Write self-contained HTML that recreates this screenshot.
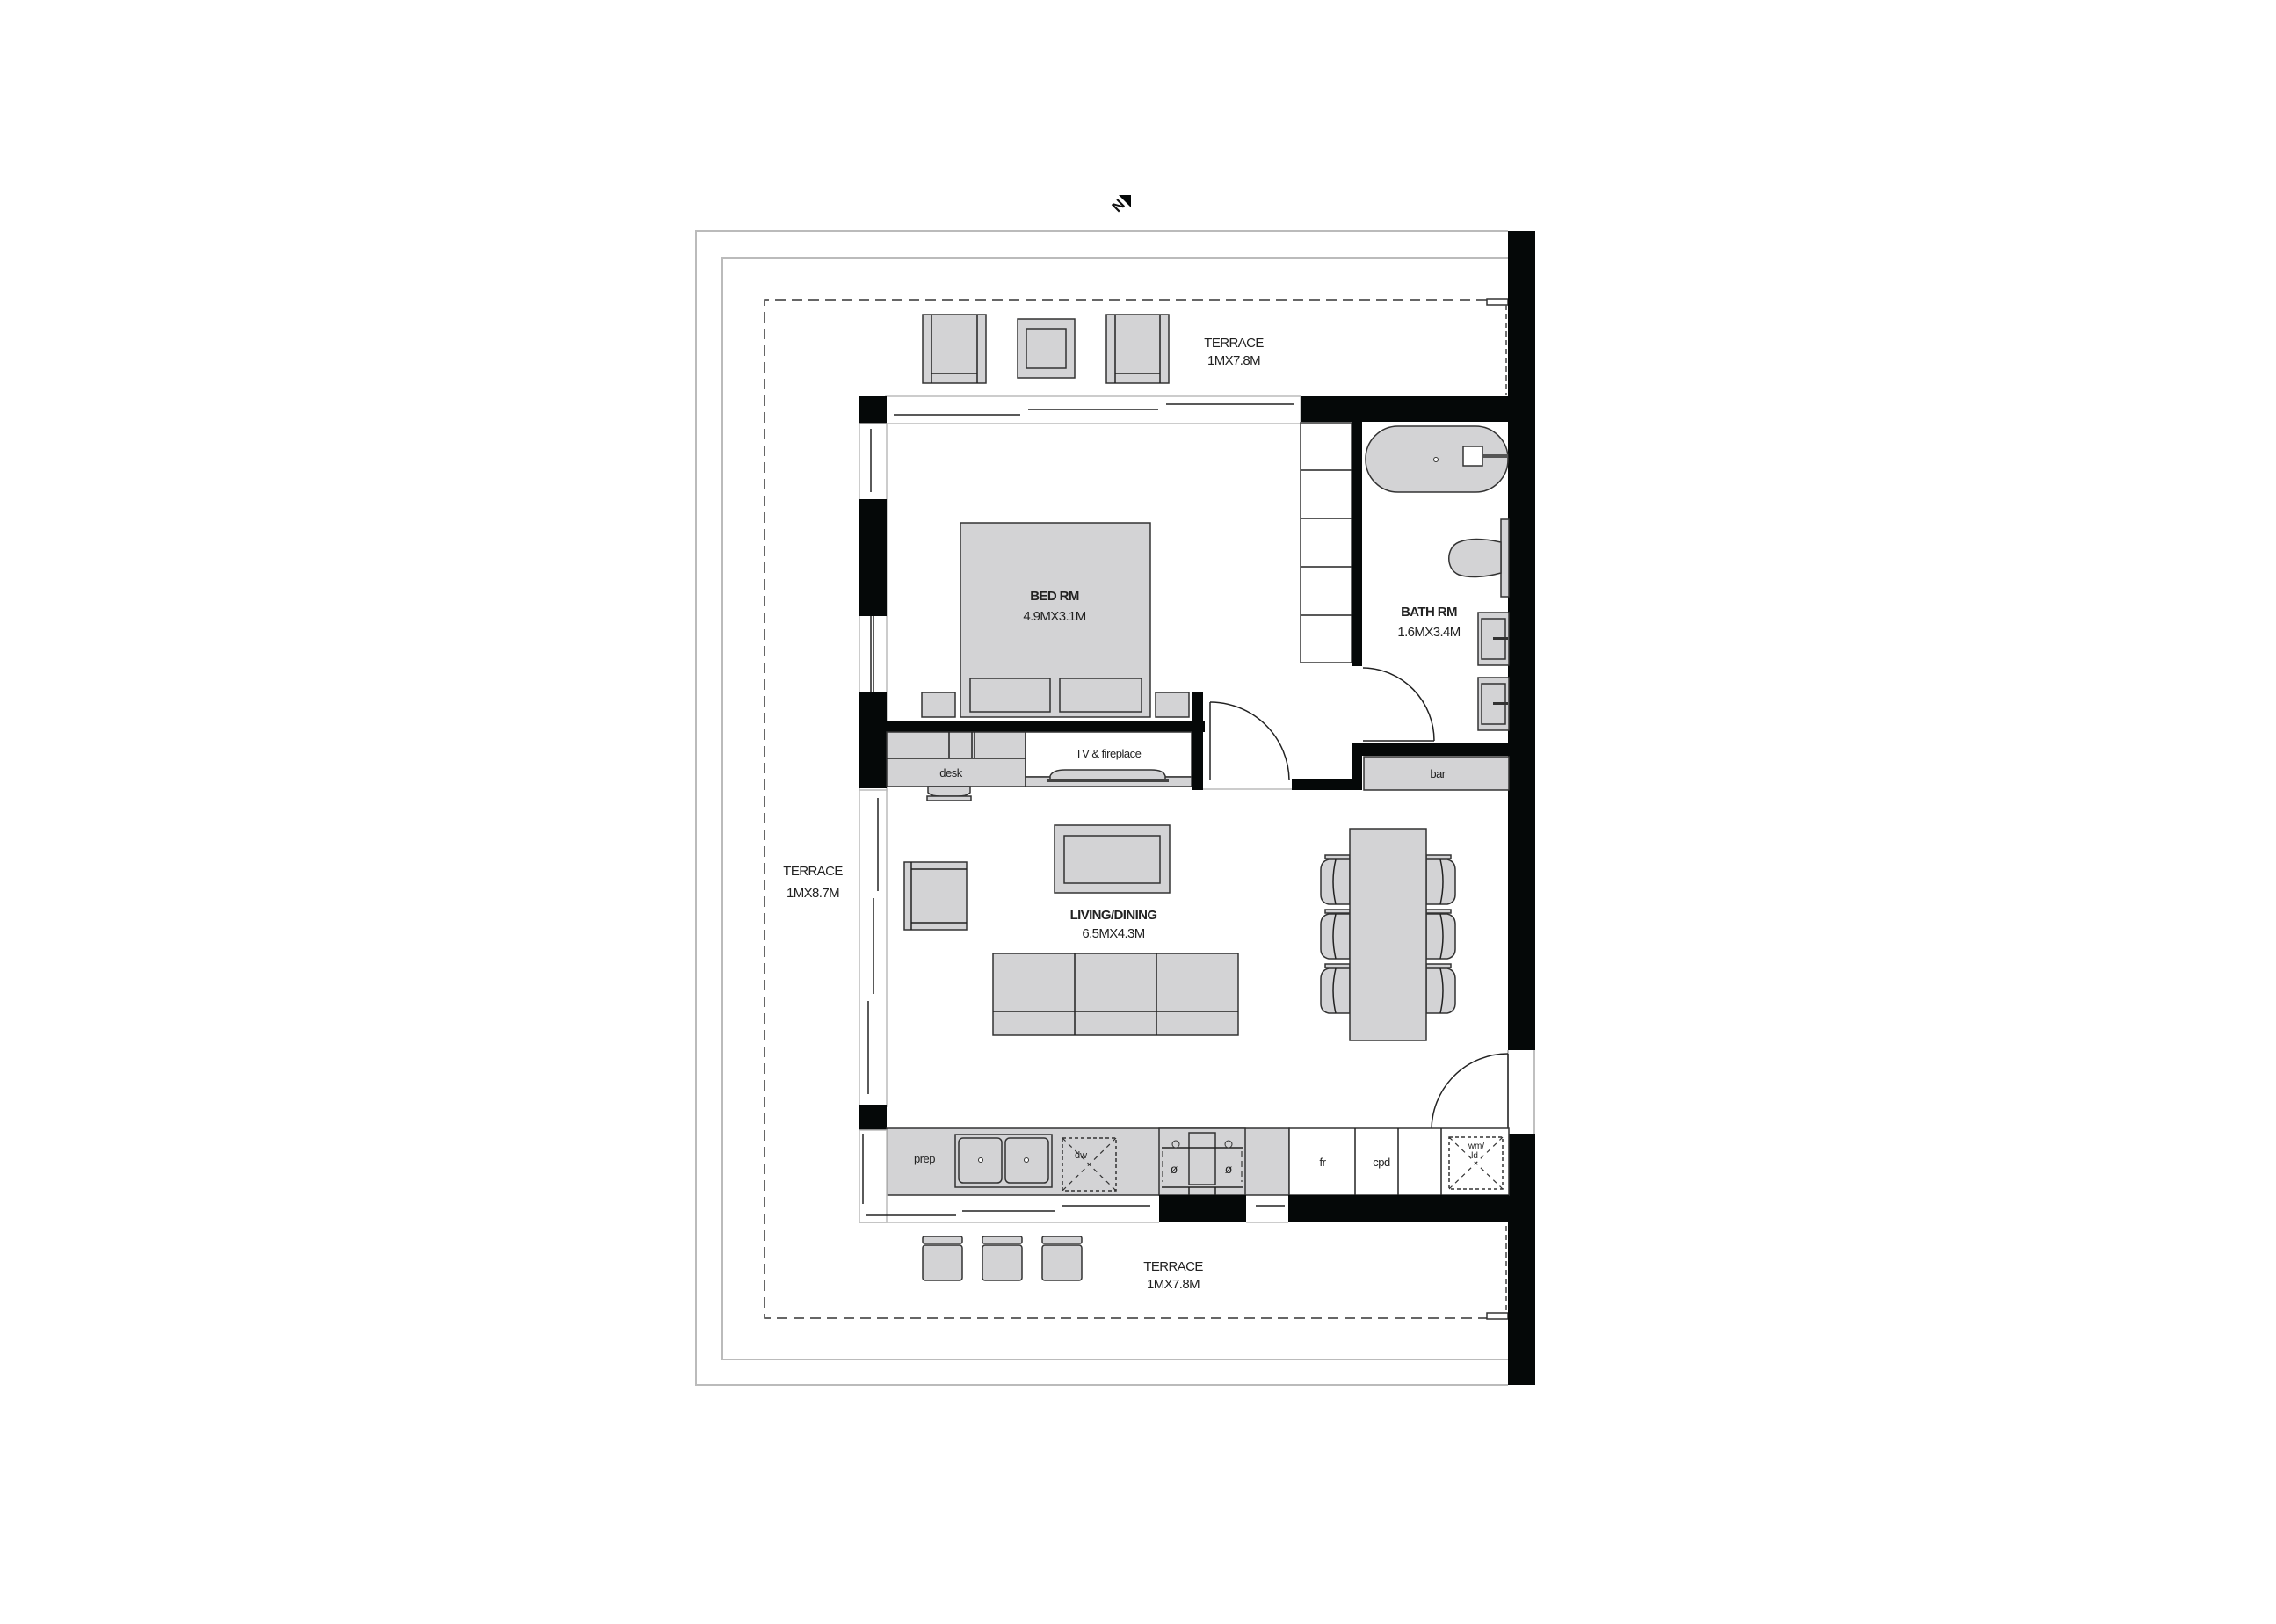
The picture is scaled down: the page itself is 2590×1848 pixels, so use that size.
<!DOCTYPE html>
<html><head><meta charset="utf-8"><style>
html,body{margin:0;padding:0;background:#fff}
svg{display:block}
text{font-family:"Liberation Sans",sans-serif;fill:#222}
.g{fill:#d3d3d5;stroke:#333;stroke-width:1.5}
.w{fill:#fff;stroke:#333;stroke-width:1.5}
.k{fill:#050808}
.l{fill:none;stroke:#222;stroke-width:1.5}
.lg{fill:none;stroke:#bbb;stroke-width:2}
.t{font-size:15px;letter-spacing:-0.6px}
.b{font-size:15px;font-weight:bold;letter-spacing:-0.6px}
.s{font-size:13px;letter-spacing:-0.5px}
</style></head><body>
<svg width="2590" height="1848" viewBox="0 0 2590 1848" xmlns="http://www.w3.org/2000/svg">
<polygon class="k" points="1273,222 1287,222 1287,236"/>
<text x="1268" y="244" font-size="17" font-weight="bold" transform="rotate(-45 1268 238)" style="fill:#111">N</text>

<polyline class="lg" points="1716,263 792,263 792,1576 1716,1576"/>
<polyline class="lg" points="1716,294 822,294 822,1547 1716,1547"/>
<polyline fill="none" stroke="#333" stroke-width="1.5" stroke-dasharray="12 7" points="1692,341 870,341 870,1500 1692,1500"/>
<rect class="w" x="1692" y="340" width="24" height="7"/>
<rect class="w" x="1692" y="1494" width="24" height="7"/>
<line x1="1714" y1="347" x2="1714" y2="450" stroke="#444" stroke-width="1.5" stroke-dasharray="6 4"/>
<line x1="1714" y1="1395" x2="1714" y2="1494" stroke="#444" stroke-width="1.5" stroke-dasharray="6 4"/>

<rect class="k" x="1716" y="263" width="31" height="932"/>
<rect class="k" x="1716" y="1290" width="31" height="286"/>
<line x1="1716" y1="1195" x2="1716" y2="1290" stroke="#aaa" stroke-width="1.5"/>
<line x1="1746" y1="1195" x2="1746" y2="1290" stroke="#aaa" stroke-width="1.5"/>

<g>
<rect class="g" x="1050" y="358" width="72" height="78"/>
<line class="l" x1="1060" y1="358" x2="1060" y2="436"/><line class="l" x1="1112" y1="358" x2="1112" y2="436"/>
<line class="l" x1="1060" y1="425" x2="1112" y2="425"/>
<rect class="g" x="1158" y="363" width="65" height="67"/>
<rect class="g" x="1168" y="374" width="45" height="45"/>
<rect class="g" x="1259" y="358" width="71" height="78"/>
<line class="l" x1="1269" y1="358" x2="1269" y2="436"/><line class="l" x1="1320" y1="358" x2="1320" y2="436"/>
<line class="l" x1="1269" y1="425" x2="1320" y2="425"/>
</g>
<text class="t" x="1404" y="395" text-anchor="middle">TERRACE</text>
<text class="t" x="1404" y="415" text-anchor="middle">1MX7.8M</text>

<rect x="1008" y="451" width="472" height="31" fill="#fff" stroke="#bbb" stroke-width="1.5"/>
<rect class="k" x="978" y="451" width="31" height="31"/>
<line class="l" x1="1017" y1="472" x2="1161" y2="472" stroke-width="2"/>
<line class="l" x1="1170" y1="466" x2="1318" y2="466" stroke-width="2"/>
<line class="l" x1="1327" y1="460" x2="1472" y2="460" stroke-width="2"/>
<rect class="k" x="1480" y="451" width="237" height="29"/>
<rect class="k" x="1538" y="480" width="12" height="278"/>
<rect class="k" x="1538" y="846" width="179" height="14"/>
<rect class="k" x="1538" y="846" width="12" height="53"/>
<rect class="k" x="1470" y="887" width="80" height="12"/>

<rect class="w" x="1480" y="481" width="58" height="273"/>
<line class="l" x1="1480" y1="535" x2="1538" y2="535"/>
<line class="l" x1="1480" y1="590" x2="1538" y2="590"/>
<line class="l" x1="1480" y1="645" x2="1538" y2="645"/>
<line class="l" x1="1480" y1="700" x2="1538" y2="700"/>

<rect class="g" x="1554" y="485" width="162" height="75" rx="37"/>
<circle cx="1634" cy="523" r="2.5" fill="#fff" stroke="#333"/>
<rect class="w" x="1665" y="508" width="22" height="22"/>
<rect x="1687" y="517" width="29" height="4" fill="#555"/>
<rect class="g" x="1708" y="591" width="9" height="88"/>
<path class="g" d="M1708,617 C1690,613 1672,612 1660,617 C1645,623 1645,648 1660,654 C1672,658 1690,657 1708,652 Z"/>
<text class="b" x="1626" y="701" text-anchor="middle">BATH RM</text>
<text class="t" x="1626" y="724" text-anchor="middle">1.6MX3.4M</text>
<rect class="g" x="1682" y="697" width="35" height="60"/>
<rect class="g" x="1686" y="704" width="27" height="46"/>
<rect x="1699" y="725" width="17" height="3" fill="#333"/>
<rect class="g" x="1682" y="771" width="35" height="60"/>
<rect class="g" x="1686" y="778" width="27" height="46"/>
<rect x="1699" y="799" width="17" height="3" fill="#333"/>
<line class="l" x1="1551" y1="843" x2="1632" y2="843"/>
<path class="l" d="M1551,760 A82,83 0 0 1 1632,843"/>
<rect class="g" x="1552" y="861" width="165" height="38"/>
<text class="s" x="1636" y="885" text-anchor="middle">bar</text>

<rect x="978" y="482" width="31" height="418" fill="#fff" stroke="#bbb" stroke-width="1.5"/>
<line class="l" x1="991" y1="488" x2="991" y2="560" stroke-width="2"/>
<rect class="k" x="978" y="568" width="31" height="133"/>
<line class="l" x1="991" y1="701" x2="991" y2="787"/>
<line class="l" x1="994" y1="701" x2="994" y2="787"/>
<rect class="k" x="978" y="787" width="31" height="110"/>

<rect class="k" x="1009" y="821" width="362" height="12"/>
<rect class="k" x="1356" y="787" width="13" height="112"/>

<rect class="g" x="1093" y="595" width="216" height="221"/>
<rect class="g" x="1104" y="772" width="91" height="38"/>
<rect class="g" x="1206" y="772" width="93" height="38"/>
<rect class="g" x="1049" y="788" width="38" height="28"/>
<rect class="g" x="1315" y="788" width="38" height="28"/>
<text class="b" x="1200" y="683" text-anchor="middle">BED RM</text>
<text class="t" x="1200" y="706" text-anchor="middle">4.9MX3.1M</text>

<rect class="g" x="1009" y="833" width="158" height="62"/>
<line class="l" x1="1009" y1="863" x2="1167" y2="863"/>
<line class="l" x1="1080" y1="833" x2="1080" y2="863"/>
<line class="l" x1="1106" y1="833" x2="1106" y2="863"/>
<line class="l" x1="1109" y1="833" x2="1109" y2="863"/>
<text class="s" x="1082" y="884" text-anchor="middle">desk</text>
<path class="g" d="M1056,895 L1056,902 Q1060,906 1070,906 L1090,906 Q1100,906 1104,902 L1104,895 Z"/>
<rect class="g" x="1055" y="906" width="50" height="5"/>
<rect class="w" x="1167" y="833" width="189" height="51"/>
<rect class="g" x="1167" y="884" width="189" height="11"/>
<text class="s" x="1261" y="862" text-anchor="middle">TV &amp; fireplace</text>
<path class="g" d="M1195,888 L1195,883 Q1198,876 1212,876 L1310,876 Q1324,876 1326,883 L1326,888 Z"/>
<rect x="1192" y="887" width="138" height="3" fill="#444"/>

<line class="l" x1="1377" y1="888" x2="1377" y2="799"/>
<path class="l" d="M1377,799 A90,90 0 0 1 1467,888"/>
<line x1="1369" y1="898" x2="1470" y2="898" stroke="#bbb" stroke-width="1.5"/>

<rect x="978" y="899" width="31" height="360" fill="#fff" stroke="#bbb" stroke-width="1.5"/>
<line class="l" x1="999" y1="908" x2="999" y2="1014" stroke-width="2"/>
<line class="l" x1="994" y1="1022" x2="994" y2="1131" stroke-width="2"/>
<line class="l" x1="988" y1="1139" x2="988" y2="1245" stroke-width="2"/>
<rect class="k" x="978" y="1257" width="31" height="29"/>

<rect class="g" x="1200" y="939" width="131" height="77"/>
<rect class="g" x="1211" y="951" width="109" height="54"/>
<rect class="g" x="1029" y="981" width="71" height="77"/>
<line class="l" x1="1037" y1="981" x2="1037" y2="1058"/>
<line class="l" x1="1037" y1="989" x2="1100" y2="989"/>
<line class="l" x1="1037" y1="1050" x2="1100" y2="1050"/>
<text class="b" x="1267" y="1046" text-anchor="middle">LIVING/DINING</text>
<text class="t" x="1267" y="1067" text-anchor="middle">6.5MX4.3M</text>
<rect class="g" x="1130" y="1085" width="279" height="93"/>
<line class="l" x1="1223" y1="1085" x2="1223" y2="1178"/>
<line class="l" x1="1316" y1="1085" x2="1316" y2="1178"/>
<line class="l" x1="1130" y1="1151" x2="1409" y2="1151"/>

<g>
<g id="chL">
<rect class="g" x="1508" y="973" width="28" height="4"/>
<path class="g" d="M1536,978 L1512,978 Q1503,980 1503,990 L1503,1018 Q1503,1027 1512,1029 L1536,1029 Z"/>
<path class="l" d="M1520,978 Q1514,1003 1520,1029"/>
</g>
<use href="#chL" y="62"/>
<use href="#chL" y="124"/>
<use href="#chL" transform="matrix(-1 0 0 1 3159 0)"/>
<use href="#chL" transform="matrix(-1 0 0 1 3159 62)"/>
<use href="#chL" transform="matrix(-1 0 0 1 3159 124)"/>
</g>
<rect class="g" x="1536" y="943" width="87" height="241"/>

<line class="l" x1="1716" y1="1286" x2="1716" y2="1199"/>
<path class="l" d="M1716,1199 A87,87 0 0 0 1629,1286"/>
<line x1="1629" y1="1286" x2="1716" y2="1286" stroke="#888" stroke-width="1.5"/>

<rect class="g" x="1009" y="1284" width="458" height="76"/>
<rect class="g" x="1087" y="1291" width="110" height="60"/>
<rect class="g" x="1091" y="1295" width="49" height="51" rx="5"/>
<rect class="g" x="1144" y="1295" width="49" height="51" rx="5"/>
<circle cx="1116" cy="1320" r="2.5" fill="#fff" stroke="#333"/>
<circle cx="1168" cy="1320" r="2.5" fill="#fff" stroke="#333"/>
<text class="s" x="1052" y="1323" text-anchor="middle">prep</text>
<rect x="1209" y="1295" width="61" height="60" fill="none" stroke="#333" stroke-width="1.5" stroke-dasharray="4 3"/>
<line x1="1209" y1="1295" x2="1270" y2="1355" stroke="#333" stroke-width="1.2" stroke-dasharray="5 5"/>
<line x1="1270" y1="1295" x2="1209" y2="1355" stroke="#333" stroke-width="1.2" stroke-dasharray="5 5"/>
<text x="1230" y="1318" font-size="11" text-anchor="middle">dw</text>
<rect class="g" x="1319" y="1284" width="98" height="76"/>
<rect class="g" x="1353" y="1289" width="30" height="59"/>
<line class="l" x1="1322" y1="1306" x2="1414" y2="1306"/>
<circle cx="1338" cy="1302" r="4" fill="#d3d3d5" stroke="#333"/>
<circle cx="1398" cy="1302" r="4" fill="#d3d3d5" stroke="#333"/>
<text x="1336" y="1335" font-size="14" text-anchor="middle">ø</text>
<text x="1398" y="1335" font-size="14" text-anchor="middle">ø</text>
<path d="M1323,1310 L1323,1345 M1413,1310 L1413,1345" stroke="#444" stroke-width="1.3" stroke-dasharray="7 4"/>
<line class="l" x1="1322" y1="1351" x2="1414" y2="1351"/>
<line class="l" x1="1353" y1="1351" x2="1353" y2="1360"/>
<line class="l" x1="1383" y1="1351" x2="1383" y2="1360"/>
<rect class="w" x="1467" y="1284" width="250" height="76"/>
<line class="l" x1="1542" y1="1284" x2="1542" y2="1360"/>
<line class="l" x1="1591" y1="1284" x2="1591" y2="1360"/>
<line class="l" x1="1640" y1="1284" x2="1640" y2="1360"/>
<text class="s" x="1505" y="1327" text-anchor="middle">fr</text>
<text class="s" x="1572" y="1327" text-anchor="middle">cpd</text>
<rect x="1649" y="1294" width="61" height="59" fill="none" stroke="#333" stroke-width="1.5" stroke-dasharray="4 3"/>
<line x1="1649" y1="1294" x2="1710" y2="1353" stroke="#333" stroke-width="1.2" stroke-dasharray="5 5"/>
<line x1="1710" y1="1294" x2="1649" y2="1353" stroke="#333" stroke-width="1.2" stroke-dasharray="5 5"/>
<text x="1680" y="1307" font-size="10" text-anchor="middle">wm/</text>
<text x="1678" y="1318" font-size="10" text-anchor="middle">ld</text>
<rect class="k" x="1319" y="1360" width="99" height="30"/>
<rect class="k" x="1466" y="1360" width="251" height="30"/>
<rect x="978" y="1286" width="31" height="105" fill="#fff" stroke="#bbb" stroke-width="1.5"/>
<line x1="978" y1="1391" x2="1319" y2="1391" stroke="#bbb" stroke-width="1.5"/>
<line x1="1418" y1="1391" x2="1466" y2="1391" stroke="#bbb" stroke-width="1.5"/>
<line class="l" x1="982" y1="1290" x2="982" y2="1370"/>
<line class="l" x1="985" y1="1383" x2="1088" y2="1383" stroke-width="2"/>
<line class="l" x1="1095" y1="1378" x2="1200" y2="1378" stroke-width="2"/>
<line class="l" x1="1208" y1="1372" x2="1309" y2="1372" stroke-width="2"/>
<line class="l" x1="1429" y1="1372" x2="1462" y2="1372" stroke-width="2"/>

<g>
<rect class="g" x="1050" y="1417" width="45" height="40" rx="3"/><rect class="g" x="1050" y="1407" width="45" height="8" rx="2"/>
<rect class="g" x="1118" y="1417" width="45" height="40" rx="3"/><rect class="g" x="1118" y="1407" width="45" height="8" rx="2"/>
<rect class="g" x="1186" y="1417" width="45" height="40" rx="3"/><rect class="g" x="1186" y="1407" width="45" height="8" rx="2"/>
</g>
<text class="t" x="1335" y="1446" text-anchor="middle">TERRACE</text>
<text class="t" x="1335" y="1466" text-anchor="middle">1MX7.8M</text>
<text class="t" x="925" y="996" text-anchor="middle">TERRACE</text>
<text class="t" x="925" y="1021" text-anchor="middle">1MX8.7M</text>
</svg>
</body></html>
